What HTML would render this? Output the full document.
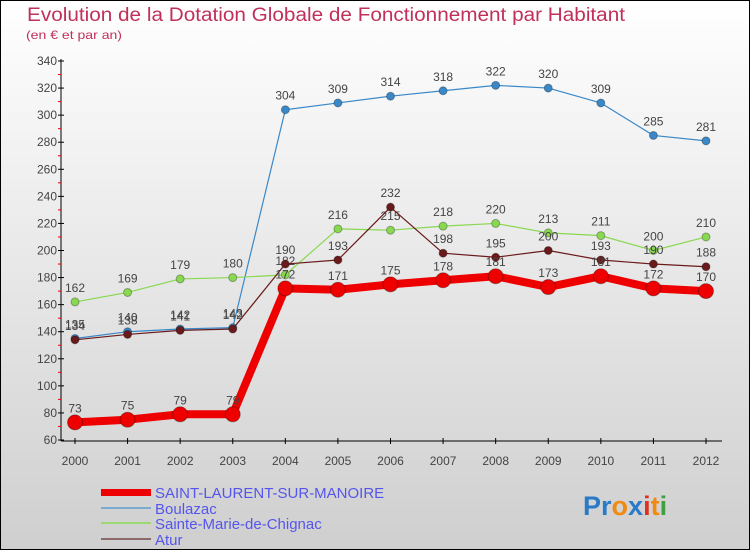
<!DOCTYPE html>
<html><head><meta charset="utf-8"><style>
body{margin:0}
#c{width:750px;height:550px;position:relative;overflow:hidden;font-family:"Liberation Sans",sans-serif}
</style></head><body>
<div id="c">
<svg id="s" width="750" height="550" xmlns="http://www.w3.org/2000/svg">
<defs><linearGradient id="bg" x1="0" y1="0" x2="0" y2="1"><stop offset="0" stop-color="#ffffff"/><stop offset="1" stop-color="#cfcfcf"/></linearGradient></defs>
<rect x="0.5" y="0.5" width="749" height="549" fill="url(#bg)" stroke="#000"/>
<text x="27" y="21" font-size="19" fill="#c0305a" textLength="598" lengthAdjust="spacingAndGlyphs">Evolution de la Dotation Globale de Fonctionnement par Habitant</text>
<text x="26" y="39" font-size="12" fill="#c0305a" textLength="96" lengthAdjust="spacingAndGlyphs">(en € et par an)</text>
<g id="axes"></g><g id="series"></g>
<g>
<rect x="101" y="489" width="50" height="7" fill="#e00"/>
<text x="155" y="498" font-size="15" fill="#5555ee">SAINT-LAURENT-SUR-MANOIRE</text>
<rect x="101" y="507" width="50" height="2" fill="#7aaad0"/>
<text x="155" y="514" font-size="15" fill="#5555ee">Boulazac</text>
<rect x="101" y="522" width="50" height="2" fill="#9ada70"/>
<text x="155" y="529" font-size="15" fill="#5555ee">Sainte-Marie-de-Chignac</text>
<rect x="101" y="538" width="50" height="2" fill="#8a6a6a"/>
<text x="155" y="545" font-size="15" fill="#5555ee">Atur</text>
</g>
<text x="583" y="515" font-size="27" font-weight="bold"><tspan fill="#2a7ac8">Pr</tspan><tspan fill="#f08a10">o</tspan><tspan fill="#2a7ac8">x</tspan><tspan fill="#e03020">i</tspan><tspan fill="#f08a10">t</tspan><tspan fill="#40a040">i</tspan></text>
</svg>
</div>
<script>
const years=[2000,2001,2002,2003,2004,2005,2006,2007,2008,2009,2010,2011,2012];
const yTicks=[60,80,100,120,140,160,180,200,220,240,260,280,300,320,340];
const saintLaurent=[73,75,79,79,172,171,175,178,181,173,181,172,170];
const boulazac=[135,140,142,143,304,309,314,318,322,320,309,285,281];
const sainteMarie=[162,169,179,180,182,216,215,218,220,213,211,200,210];
const atur=[134,138,141,142,190,193,232,198,195,200,193,190,188];
const NS="http://www.w3.org/2000/svg";
function X(i){return 75+i*(706-75)/12;}
function Y(v){return 440-(v-60)*(379/280);}
function mk(tag,attrs,parent){const e=document.createElementNS(NS,tag);for(const k in attrs)e.setAttribute(k,attrs[k]);parent.appendChild(e);return e;}
const ax=document.getElementById('axes');
let l=mk('line',{x1:61,y1:59,x2:61,y2:441,stroke:'#000'},ax);


l=mk('line',{x1:61,y1:441,x2:722,y2:441,stroke:'#000'},ax);


yTicks.forEach(v=>{
  const t=mk('line',{x1:58,x2:64,y1:Y(v),y2:Y(v),stroke:'#000'},ax);
  
  
  const tx=mk('text',{x:57,y:Y(v)+4,'font-size':12,fill:'#444','text-anchor':'end'},ax);
  tx.textContent=v;
  
  
  if(v<340){const m=mk('line',{x1:58,x2:61,y1:Y(v+10),y2:Y(v+10),stroke:'#e00'},ax);
  
  }
});
years.forEach((yr,i)=>{
  const t=mk('line',{x1:X(i),x2:X(i),y1:438,y2:444,stroke:'#000'},ax);
  
  
  const tx=mk('text',{x:X(i),y:465,'font-size':12,fill:'#444','text-anchor':'middle'},ax);
  tx.textContent=yr;
  
  
});
const sg=document.getElementById('series');
function draw(vals,color,w,r,name){
  const g=mk('g',{},sg);
  
  
  const p=mk('polyline',{points:vals.map((v,i)=>X(i)+','+Y(v)).join(' '),fill:'none',stroke:color,'stroke-width':w,'stroke-linejoin':'round'},g);
  
  
  vals.forEach((v,i)=>{
    const c=mk('circle',{cx:X(i),cy:Y(v),r:r,fill:color,stroke:'rgba(0,0,0,0.3)','stroke-width':1},g);
    
    
    const t=mk('text',{x:X(i),y:Y(v)-10,'font-size':12,fill:'#444','text-anchor':'middle'},g);
    t.textContent=v;
    
    
  });
}
draw(boulazac,'#3a88c8',1.2,4,'boulazac');
draw(sainteMarie,'#88d850',1.2,4,'sainte-marie');
draw(atur,'#6a1a1a',1.2,4,'atur');
draw(saintLaurent,'#ee0000',8,7.5,'saint-laurent');
</script>
</body></html>
